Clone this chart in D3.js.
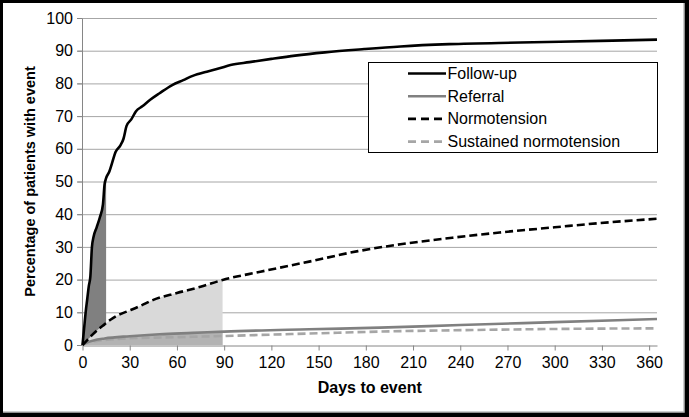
<!DOCTYPE html>
<html>
<head>
<meta charset="utf-8">
<script src="https://cdn.jsdelivr.net/npm/d3@7"></script>
<style>
  body { margin: 0; background: #000; }
  svg { display: block; font-family: "Liberation Sans", Arial, sans-serif; }
</style>
</head>
<body>
<div id="chart"></div>
<script>
// Data (days, percentage)
const followUpDays = [0, 1, 2, 3, 4, 5, 6, 7, 9, 11, 13, 14, 15, 17, 19, 21, 24, 26, 28, 31, 34, 38, 43, 49, 57, 64, 70, 79, 87, 94, 106, 120, 135, 154, 179, 202, 233, 278, 329, 365];
const followUpPct = [0, 5, 10, 14, 18, 21, 30, 33, 36, 39, 43, 49, 51, 53, 56, 59, 61, 63, 67, 69, 71.5, 73, 75, 77, 79.5, 81, 82.3, 83.6, 84.6, 85.6, 86.5, 87.5, 88.5, 89.5, 90.5, 91.3, 92, 92.5, 93, 93.4];

const referralDays = [0, 3, 7, 14, 30, 49, 70, 90, 144, 189, 240, 300, 365];
const referralPct = [0, 0.8, 1.4, 2.0, 2.7, 3.3, 3.7, 4.1, 4.8, 5.3, 6.1, 7.0, 7.95];

const normoDays = [0, 3, 6, 10, 14, 18, 22, 28, 37, 45, 60, 75, 89, 113, 144, 175, 202, 235, 265, 300, 329, 365];
const normoPct = [0, 1.5, 3, 4.8, 6.3, 7.8, 9, 10.2, 12, 13.8, 15.9, 17.8, 19.9, 22.4, 25.5, 28.7, 30.8, 32.8, 34.4, 36, 37.3, 38.6];

const sustainedDays = [0, 3, 10, 28, 60, 89, 151, 189, 250, 300, 365];
const sustainedPct = [0, 0.8, 1.3, 2.0, 2.4, 2.75, 3.6, 4.1, 4.6, 4.9, 5.1];

const xTicks = [0, 30, 60, 90, 120, 150, 180, 210, 240, 270, 300, 330, 360];
const yTicks = [0, 10, 20, 30, 40, 50, 60, 70, 80, 90, 100];
const legendLabels = ["Follow-up", "Referral", "Normotension", "Sustained normotension"];

const width = 689, height = 417;
const margin = { left: 82.5, right: 32, top: 18, bottom: 72 };

const svg = d3.select("#chart")
  .append("svg")
  .attr("width", width)
  .attr("height", height);

// Frame: black surround with a white page and a light edge on right/bottom
svg.append("rect").attr("width", width).attr("height", height).attr("fill", "#000");
svg.append("rect")
  .attr("x", 3).attr("y", 3).attr("width", 681).attr("height", 409)
  .attr("fill", "#fff");
svg.append("path")
  .attr("d", "M684,3V412H3")
  .attr("fill", "none").attr("stroke", "#bdbdbd").attr("stroke-width", 1.5);

const x = d3.scaleLinear().domain([0, 365]).range([margin.left, width - margin.right]);
const y = d3.scaleLinear().domain([0, 100]).range([height - margin.bottom, margin.top]);

const zip = (days, pct) => days.map((d, i) => ({ d: d, v: pct[i] }));
const followUp = zip(followUpDays, followUpPct);
const referral = zip(referralDays, referralPct);
const normo = zip(normoDays, normoPct);
const sustained = zip(sustainedDays, sustainedPct);

// Gridlines
svg.append("g")
  .selectAll("line")
  .data(yTicks.slice(1))
  .enter()
  .append("line")
  .attr("x1", x(0) - 5).attr("x2", x(365))
  .attr("y1", d => y(d) + 0.5).attr("y2", d => y(d) + 0.5)
  .attr("stroke", "#a6a6a6");

// Clip rects for the shaded periods
const defs = svg.append("defs");
[["clip14", 15], ["clip90", 89]].forEach(([id, day]) => {
  defs.append("clipPath").attr("id", id)
    .append("rect")
    .attr("x", x(0)).attr("y", y(100))
    .attr("width", x(day) - x(0)).attr("height", y(0) - y(100));
});

const area = d3.area().x(p => x(p.d)).y0(y(0)).y1(p => y(p.v)).curve(d3.curveMonotoneX);
const line = d3.line().x(p => x(p.d)).y(p => y(p.v)).curve(d3.curveMonotoneX);

// Shaded areas: first 2 weeks under follow-up, first 90 days under normotension and referral
svg.append("path").attr("d", area(followUp)).attr("fill", "#808080").attr("clip-path", "url(#clip14)");
svg.append("path").attr("d", area(normo)).attr("fill", "#d9d9d9").attr("clip-path", "url(#clip90)");
svg.append("path").attr("d", area(referral)).attr("fill", "#b3b3b3").attr("clip-path", "url(#clip90)");

// Axes
const xAxis = svg.append("g")
  .attr("transform", `translate(0,${y(0) + 0.5})`)
  .call(d3.axisBottom(x).tickValues(xTicks).tickSize(5).tickSizeOuter(0));
const yAxis = svg.append("g")
  .attr("transform", `translate(${x(0) - 0.5},0)`)
  .call(d3.axisLeft(y).tickValues(yTicks).tickSize(5).tickSizeOuter(0));

[xAxis, yAxis].forEach(g => {
  g.select(".domain").attr("stroke", "#868686");
  g.selectAll(".tick line").attr("stroke", "#868686");
  g.selectAll("text").attr("fill", "#000").style("font-size", "16px")
    .style("font-family", "'Liberation Sans', Arial, sans-serif");
});
xAxis.selectAll("text").attr("dy", "1.0em").attr("y", 6);
yAxis.selectAll("text").attr("x", -9);

// Series
const series = [
  { data: followUp, color: "#000", dash: null },
  { data: referral, color: "#808080", dash: null },
  { data: normo, color: "#000", dash: "8,4" },
  { data: sustained, color: "#a6a6a6", dash: "8,4" }
];

// draw the light lines first so the black ones sit on top
[3, 1, 2, 0].forEach(i => {
  const s = series[i];
  svg.append("path")
    .attr("d", line(s.data))
    .attr("fill", "none")
    .attr("stroke", s.color)
    .attr("stroke-width", 2.6)
    .attr("stroke-dasharray", s.dash);
});

// Axis titles
svg.append("text")
  .attr("x", (x(0) + x(365)) / 2)
  .attr("y", 393)
  .attr("text-anchor", "middle")
  .style("font-weight", "bold")
  .style("font-size", "16px")
  .text("Days to event");

svg.append("text")
  .attr("transform", `translate(35,${(y(0) + y(100)) / 2}) rotate(-90)`)
  .attr("text-anchor", "middle")
  .style("font-weight", "bold")
  .style("font-size", "14.5px")
  .text("Percentage of patients with event");

// Legend
const legend = svg.append("g");
legend.append("rect")
  .attr("x", 368.5).attr("y", 62.5).attr("width", 289).attr("height", 90)
  .attr("fill", "#fff").attr("stroke", "#000");

legendLabels.forEach((label, i) => {
  const ly = 73.5 + i * 22.7;
  legend.append("line")
    .attr("x1", 408).attr("x2", 446)
    .attr("y1", ly).attr("y2", ly)
    .attr("stroke", series[i].color)
    .attr("stroke-width", 2.6)
    .attr("stroke-dasharray", series[i].dash ? "8,5" : null);
  legend.append("text")
    .attr("x", 447.5).attr("y", ly + 5.5)
    .style("font-size", "16px")
    .text(label);
});
</script>
</body>
</html>
